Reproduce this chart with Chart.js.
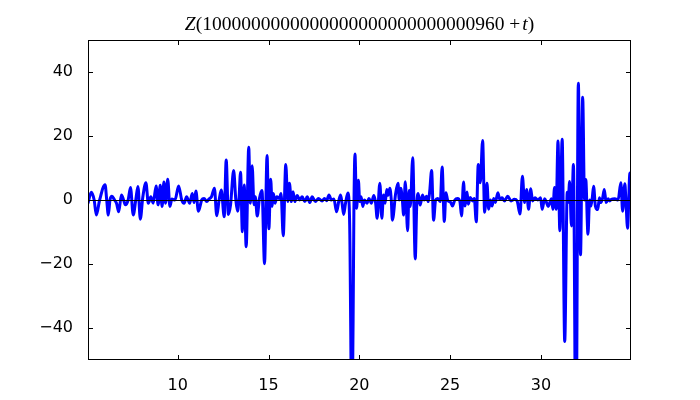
<!DOCTYPE html>
<html>
<head>
<meta charset="utf-8">
<script src="https://cdn.jsdelivr.net/npm/chart.js@4/dist/chart.umd.min.js"></script>
<style>
  html, body { margin: 0; padding: 0; background: #fff; }
  canvas { display: block; }
</style>
</head>
<body>
<canvas id="chart" width="700" height="400"></canvas>
<script>
// values (t, Z)
const tValues = [
  5.06, 5.24, 5.40, 5.52, 5.70, 6.00, 6.09, 6.18, 6.27, 6.38, 6.52, 6.63, 6.75, 6.90, 7.02, 7.12,
  7.27, 7.40, 7.55, 7.69, 7.81, 7.94, 8.08, 8.25, 8.38, 8.52, 8.65, 8.81, 8.92, 9.04, 9.14, 9.24,
  9.33, 9.45, 9.57, 9.68, 9.85, 10.05, 10.22, 10.35, 10.49, 10.66, 10.80, 10.90, 11.00, 11.14, 11.32, 11.45,
  11.60, 11.72, 11.86, 12.02, 12.15, 12.28, 12.40, 12.56, 12.67, 12.79, 12.91, 13.08, 13.20, 13.30, 13.38, 13.46,
  13.56, 13.66, 13.77, 13.91, 14.00, 14.10, 14.20, 14.27, 14.38, 14.50, 14.64, 14.78, 14.92, 15.02, 15.12, 15.20,
  15.27, 15.36, 15.46, 15.60, 15.69, 15.81, 15.95, 16.06, 16.15, 16.26, 16.35, 16.45, 16.58, 16.72, 16.85, 17.00,
  17.13, 17.28, 17.40, 17.58, 17.75, 17.95, 18.08, 18.20, 18.33, 18.46, 18.60, 18.75, 18.88, 18.97, 19.05, 19.14,
  19.24, 19.37, 19.47, 19.60, 19.70, 19.76, 19.85, 19.95, 20.02, 20.10, 20.19, 20.28, 20.42, 20.53, 20.66, 20.80,
  20.90, 20.98, 21.13, 21.24, 21.33, 21.42, 21.51, 21.58, 21.68, 21.76, 21.82, 22.00, 22.13, 22.20, 22.28, 22.37,
  22.44, 22.53, 22.66, 22.74, 22.81, 22.94, 23.08, 23.16, 23.24, 23.35, 23.48, 23.57, 23.70, 23.80, 23.88, 23.98,
  24.09, 24.20, 24.31, 24.46, 24.56, 24.68, 24.77, 24.86, 24.95, 25.04, 25.13, 25.26, 25.41, 25.54, 25.63, 25.74,
  25.82, 25.93, 26.00, 26.11, 26.24, 26.33, 26.44, 26.55, 26.66, 26.79, 26.90, 27.03, 27.12, 27.22, 27.31, 27.40,
  27.49, 27.63, 27.73, 27.86, 27.99, 28.17, 28.36, 28.54, 28.69, 28.85, 28.98, 29.10, 29.21, 29.32, 29.44, 29.54,
  29.68, 29.83, 29.98, 30.07, 30.20, 30.31, 30.40, 30.48, 30.58, 30.66, 30.75, 30.84, 30.94, 31.04, 31.17, 31.31,
  31.45, 31.50, 31.58, 31.68, 31.79, 31.93, 32.06, 32.18, 32.30, 32.40, 32.47, 32.59, 32.68, 32.75, 32.83, 32.90,
  33.00, 33.13, 33.22, 33.30, 33.40, 33.49, 33.59, 33.70, 33.79, 33.88, 34.07, 34.25, 34.40, 34.50, 34.62, 34.68,
  34.77, 34.90, 34.96
];
const zValues = [
  -1.0, 2.4, 0, -4.7, 0, 4.8, 0, -4.7, 0, 1.2, 0, -1.0, -3.7, 1.6, 0, -1.5,
  0, 3.9, -4.7, 0, 4.2, -6.0, 1.0, 5.4, -1.0, 1.0, -1.0, 4.4, -1.5, 4.6, -2.0, 5.6,
  -1.0, 6.5, -2.0, 0.3, 0, 4.4, 0, -1.0, 1.0, -1.0, 2.0, -0.8, 2.8, -3.5, 0, 0.5,
  -0.5, 0.3, 1.0, 3.7, -4.9, 0, 3.1, -5.2, 12.5, -4.5, -1.5, 9.2, 0, -3.5, 1.0, 8.7,
  -9.9, 4.7, -14.6, 16.5, -1.0, 10.7, -1.5, 1.0, -5.0, 0.5, 3.0, -19.9, 13.9, -9.0, 6.5, -2.0,
  2.0, -1.0, 1.0, 0.5, 2.0, -11.2, 11.1, -0.5, 5.2, -0.5, 2.6, -0.5, 1.4, 0, 1.0, -0.5,
  1.0, -0.8, 1.0, -0.5, 0.5, -0.3, 0.5, -0.2, 1.6, 0, 0.3, -3.7, 0, 1.6, -1.0, -4.5,
  -1.0, 2.2, -8.0, -75.0, -4.0, 14.4, -2.6, 6.2, -0.5, 1.0, -2.0, 0, -1.0, 0.5, -1.0, 1.4,
  -1.0, -5.7, 5.2, -5.7, 1.6, -1.0, 3.3, 1.5, 3.7, 0, -6.3, 2.0, 5.2, 0, 3.7, 0,
  -4.7, 5.7, -9.6, 3.0, -2.0, 13.2, -18.4, -2.0, 2.0, -1.6, 1.6, 0, 1.2, -0.5, 3.0, 9.2,
  -6.3, 0, 0.5, -0.5, 10.3, -6.7, 2.3, 0, -0.5, -0.8, -1.9, 0, 0.5, -0.5, -5.0, 5.6,
  -1.9, 2.5, -1.3, 0.8, -0.3, 0.5, -6.8, 11.1, 5.4, 18.6, -3.8, 5.2, -2.9, 0, -1.9, 0.5,
  -0.8, 2.3, 0.2, 0.7, -0.3, 1.2, -0.3, 0.2, -0.3, -4.4, 7.4, -0.8, 3.3, -2.9, 3.5, -0.3,
  0.7, 0, 0.7, -2.9, 0.4, -0.8, -2.0, -1.0, 0.4, -2.9, 3.9, -2.9, 18.4, -9.6, 19.0, -44.2,
  2.4, -0.8, 5.8, -8.1, 11.1, -85.0, 36.5, -17.1, 32.1, 0, 6.4, -10.7, 0, -1.9, 0.8, 4.3,
  -1.9, -3.0, 0.7, -0.8, 0.7, 3.3, -0.8, 0.4, -0.3, 0.2, 0.4, 0, 5.4, -3.5, 5.1, 0,
  -8.8, 8.4, 6.0
];
const xTicks = [10, 15, 20, 25, 30];
const yTicks = [-40, -20, 0, 20, 40];
const xMin = 5.06, xMax = 34.96;
const yMin = -50, yMax = 50;
const titleParts = [
  { text: 'Z', italic: true },
  { text: '(1' + '0'.repeat(27) + '960 ', italic: false },
  { text: '+', italic: false },
  { text: 't', italic: true },
  { text: ')', italic: false }
];

const points = tValues.map((t, i) => ({ x: t, y: zValues[i] }));

// frame, inward ticks, zero line and the mixed-style title
const decorations = {
  id: 'decorations',
  afterDatasetsDraw(chart) {
    const { ctx, chartArea: a, scales: { x, y } } = chart;
    ctx.save();
    ctx.strokeStyle = '#000';
    ctx.lineWidth = 1;
    const y0 = Math.round(y.getPixelForValue(0)) + 0.5;
    ctx.beginPath();
    ctx.moveTo(a.left, y0);
    ctx.lineTo(a.right, y0);
    ctx.stroke();
    ctx.restore();
  },
  afterDraw(chart) {
    const { ctx, chartArea: a, scales: { x, y } } = chart;
    const len = 5;
    ctx.save();
    ctx.strokeStyle = '#000';
    ctx.lineWidth = 1;
    ctx.strokeRect(a.left + 0.5, a.top + 0.5, a.right - a.left - 1, a.bottom - a.top - 1);
    ctx.beginPath();
    xTicks.forEach(v => {
      const px = Math.round(x.getPixelForValue(v)) + 0.5;
      ctx.moveTo(px, a.bottom); ctx.lineTo(px, a.bottom - len);
      ctx.moveTo(px, a.top); ctx.lineTo(px, a.top + len);
    });
    yTicks.forEach(v => {
      const py = Math.round(y.getPixelForValue(v)) + 0.5;
      ctx.moveTo(a.left, py); ctx.lineTo(a.left + len, py);
      ctx.moveTo(a.right, py); ctx.lineTo(a.right - len, py);
    });
    ctx.stroke();

    // title
    ctx.fillStyle = '#000';
    ctx.textBaseline = 'alphabetic';
    ctx.textAlign = 'left';
    const fontFor = p => (p.italic ? 'italic ' : '') + '19.5px "Liberation Serif", "DejaVu Serif", serif';
    let total = 0;
    titleParts.forEach(p => { ctx.font = fontFor(p); total += ctx.measureText(p.text).width + (p.text === '+' ? 2 : 0); });
    let cx = (a.left + a.right) / 2 - total / 2;
    titleParts.forEach(p => {
      ctx.font = fontFor(p);
      ctx.fillText(p.text, cx, 30);
      cx += ctx.measureText(p.text).width + (p.text === '+' ? 2 : 0);
    });
    ctx.restore();
  }
};

const tickFont = { family: '"DejaVu Sans", sans-serif', size: 16 };

new Chart(document.getElementById('chart'), {
  type: 'line',
  data: {
    datasets: [{
      data: points,
      borderColor: '#0000ff',
      backgroundColor: '#0000ff',
      borderWidth: 3,
      pointRadius: 0,
      fill: false,
      cubicInterpolationMode: 'monotone'
    }]
  },
  options: {
    responsive: false,
    animation: false,
    devicePixelRatio: 1,
    layout: { padding: { top: 40, right: 69, left: 0, bottom: 0 } },
    plugins: { legend: { display: false }, title: { display: false }, tooltip: { enabled: false } },
    scales: {
      x: {
        type: 'linear',
        min: xMin,
        max: xMax,
        grid: { display: false },
        border: { display: false },
        afterBuildTicks: s => { s.ticks = xTicks.map(v => ({ value: v })); },
        afterFit: s => { s.height = 40; },
        ticks: { font: tickFont, color: '#000', padding: 8, autoSkip: false, maxRotation: 0, callback: v => String(v) }
      },
      y: {
        type: 'linear',
        min: yMin,
        max: yMax,
        grid: { display: false },
        border: { display: false },
        afterBuildTicks: s => { s.ticks = yTicks.map(v => ({ value: v })); },
        afterFit: s => { s.width = 88; },
        ticks: { font: tickFont, color: '#000', padding: 7, callback: v => (v < 0 ? '\u2212' + Math.abs(v) : String(v)) }
      }
    }
  },
  plugins: [decorations]
});
</script>
</body>
</html>
